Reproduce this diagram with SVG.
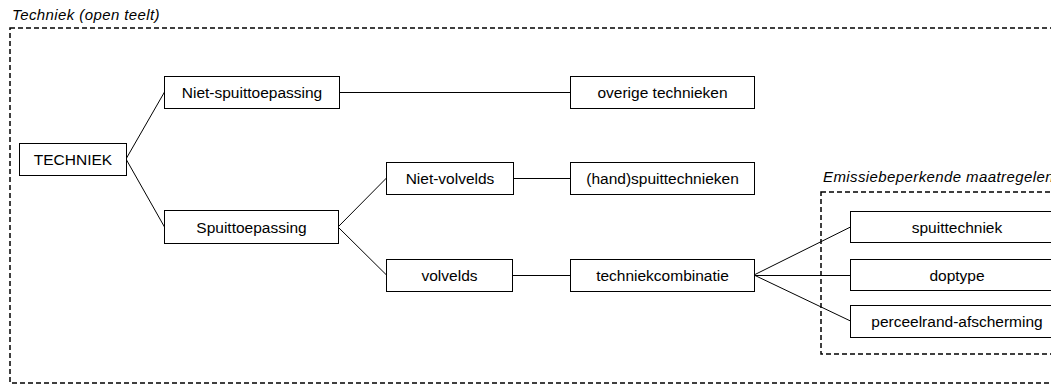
<svg xmlns="http://www.w3.org/2000/svg" width="1051" height="385" viewBox="0 0 1051 385">
  <style>
    .frame { fill: none; stroke: #000; stroke-width: 1.5; stroke-dasharray: 5 3; }
    .caption { font-family: "Liberation Sans", Arial, sans-serif; font-size: 15px; font-style: italic; letter-spacing: 0.4px; fill: #000; }
    .node rect { fill: #fff; stroke: #000; stroke-width: 1; }
    .node text { font-family: "Liberation Sans", Arial, sans-serif; font-size: 15.5px; fill: #000; text-anchor: middle; }
    .links line { stroke: #000; stroke-width: 1; }
  </style>
  <rect width="1051" height="385" fill="#fff"/>

  <!-- outer grouping: open field techniques -->
  <rect class="frame" x="10" y="28" width="1070" height="355"/>
  <text class="caption" x="12" y="20">Techniek (open teelt)</text>

  <!-- inner grouping: emission reducing measures -->
  <rect class="frame" x="821" y="192" width="260" height="162"/>
  <text class="caption" x="823" y="182">Emissiebeperkende maatregelen</text>

  <g class="links">
    <line x1="126" y1="159" x2="164.5" y2="92"/>
    <line x1="126" y1="159" x2="164.5" y2="227"/>
    <line x1="339" y1="92.5" x2="570" y2="92.5"/>
    <line x1="338" y1="227" x2="386.5" y2="178"/>
    <line x1="338" y1="227" x2="386.5" y2="275"/>
    <line x1="513" y1="178.5" x2="570" y2="178.5"/>
    <line x1="512" y1="275.5" x2="570" y2="275.5"/>
    <line x1="754" y1="275" x2="850.5" y2="227"/>
    <line x1="754" y1="275.5" x2="850.5" y2="275.5"/>
    <line x1="754" y1="275" x2="850.5" y2="321"/>
  </g>

  <g id="techniek" class="node">
    <rect x="19.5" y="143.5" width="107" height="32"/>
    <text x="73" y="165">TECHNIEK</text>
  </g>
  <g id="niet-spuittoepassing" class="node">
    <rect x="164.5" y="76.5" width="175" height="32"/>
    <text x="252" y="98">Niet-spuittoepassing</text>
  </g>
  <g id="spuittoepassing" class="node">
    <rect x="164.5" y="210.5" width="174" height="33"/>
    <text x="251.5" y="233">Spuittoepassing</text>
  </g>
  <g id="overige-technieken" class="node">
    <rect x="570.5" y="76.5" width="184" height="32"/>
    <text x="662.5" y="98">overige technieken</text>
  </g>
  <g id="niet-volvelds" class="node">
    <rect x="386.5" y="162.5" width="127" height="32"/>
    <text x="450" y="184">Niet-volvelds</text>
  </g>
  <g id="handspuittechnieken" class="node">
    <rect x="570.5" y="162.5" width="184" height="32"/>
    <text x="662.5" y="184">(hand)spuittechnieken</text>
  </g>
  <g id="volvelds" class="node">
    <rect x="386.5" y="259.5" width="126" height="32"/>
    <text x="449.5" y="281">volvelds</text>
  </g>
  <g id="techniekcombinatie" class="node">
    <rect x="570.5" y="259.5" width="184" height="32"/>
    <text x="662.5" y="281">techniekcombinatie</text>
  </g>
  <g id="spuittechniek" class="node">
    <rect x="850.5" y="211.5" width="213" height="31"/>
    <text x="957" y="232.5">spuittechniek</text>
  </g>
  <g id="doptype" class="node">
    <rect x="850.5" y="259.5" width="213" height="31"/>
    <text x="957" y="280.5">doptype</text>
  </g>
  <g id="perceelrand-afscherming" class="node">
    <rect x="850.5" y="305.5" width="213" height="32"/>
    <text x="957" y="327">perceelrand-afscherming</text>
  </g>
</svg>
